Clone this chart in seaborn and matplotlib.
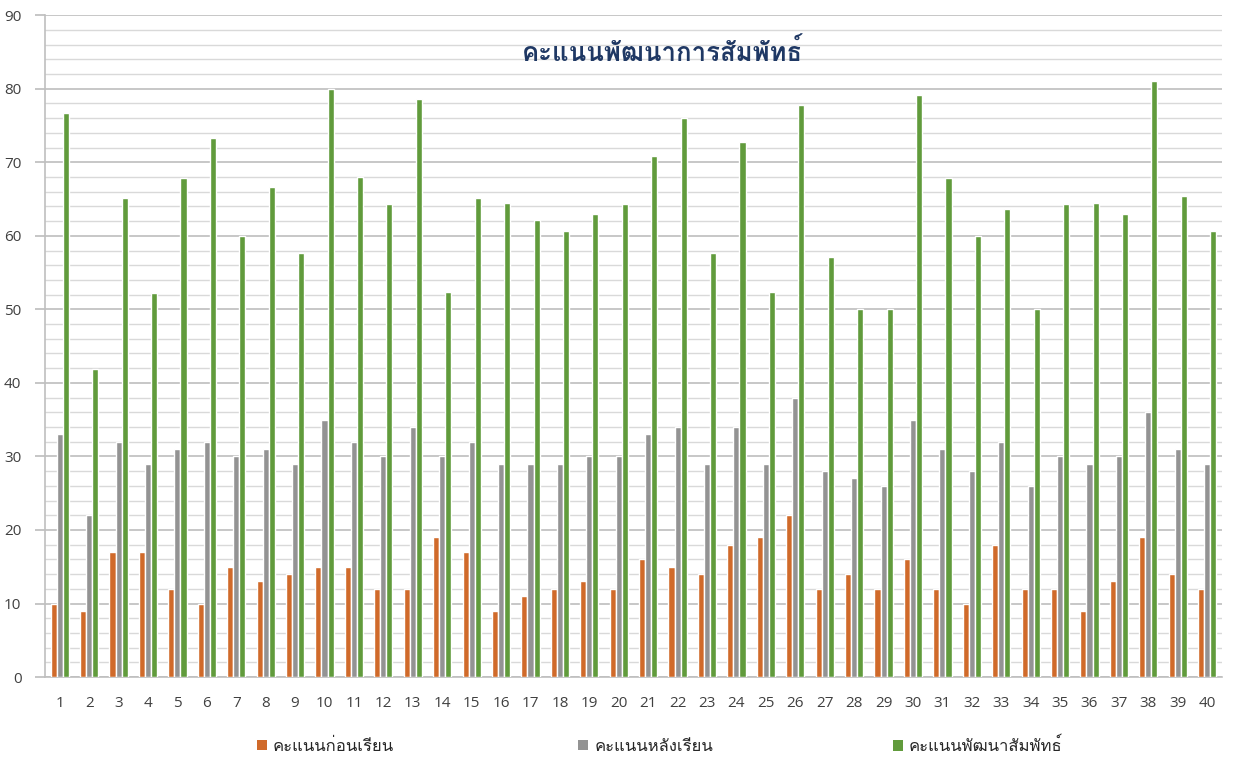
import numpy as np
import pandas as pd
import matplotlib
matplotlib.use("Agg")
import matplotlib.pyplot as plt
import seaborn as sns
from matplotlib import font_manager
from matplotlib.ft2font import FT2Font
from matplotlib.patches import Patch

# ---------------- data ----------------
students = [str(i) for i in range(1, 41)]
before = [10, 9, 17, 17, 12, 10, 15, 13, 14, 15, 15, 12, 12, 19, 17, 9, 11, 12, 13, 12,
          16, 15, 14, 18, 19, 22, 12, 14, 12, 16, 12, 10, 18, 12, 12, 9, 13, 19, 14, 12]
after = [33, 22, 32, 29, 31, 32, 30, 31, 29, 35, 32, 30, 34, 30, 32, 29, 29, 29, 30, 30,
         33, 34, 29, 34, 29, 38, 28, 27, 26, 35, 31, 28, 32, 26, 30, 29, 30, 36, 31, 29]
development = [76.7, 41.9, 65.2, 52.2, 67.9, 73.3, 60.0, 66.7, 57.7, 80.0,
               68.0, 64.3, 78.6, 52.4, 65.2, 64.5, 62.1, 60.7, 63.0, 64.3,
               70.8, 76.0, 57.7, 72.7, 52.4, 77.8, 57.1, 50.0, 50.0, 79.2,
               67.9, 60.0, 63.6, 50.0, 64.3, 64.5, 63.0, 81.0, 65.4, 60.7]
series_names = ["คะแนนก่อนเรียน", "คะแนนหลังเรียน", "คะแนนพัฒนาสัมพัทธ์"]
title_text = "คะแนนพัฒนาการสัมพัทธ์"
y_ticks = [0, 10, 20, 30, 40, 50, 60, 70, 80, 90]

colors = ["#D06A2A", "#939393", "#619B3C"]

# ---------------- fonts ----------------
cands = set()
for f in font_manager.fontManager.ttflist:
    try:
        if 0x0E01 in FT2Font(f.fname).get_charmap():
            cands.add(f.name)
    except Exception:
        pass
pref = None
for p in ["Loma", "Tahoma", "Noto Sans Thai Looped", "Noto Sans Thai", "Sarabun"]:
    if p in cands:
        pref = p
        break
if pref is None and cands:
    pref = sorted(cands)[0]
families = ([pref] if pref else []) + ["DejaVu Sans"]

sns.set_theme(style="white")
plt.rcParams["font.family"] = families

df = pd.DataFrame({
    "student": students * 3,
    "score": before + after + development,
    "series": [series_names[0]] * 40 + [series_names[1]] * 40 + [series_names[2]] * 40,
})

fig = plt.figure(figsize=(12.33, 7.62), dpi=100)
ax = fig.add_axes([0.0365, 0.1115, 0.9545, 0.8685])

sns.barplot(data=df, x="student", y="score", hue="series", hue_order=series_names,
            palette=colors, width=0.62, ax=ax, legend=False, saturation=1,
            errorbar=None, zorder=3)

ax.set_ylim(0, 90)
ax.set_xlim(-0.5, 39.5)
ax.set_yticks(y_ticks)
ax.set_yticks(np.arange(0, 91, 2), minor=True)
ax.grid(axis="y", which="major", color="#BDBDBD", linewidth=1.2, zorder=0)
ax.grid(axis="y", which="minor", color="#D9D9D9", linewidth=1.0, zorder=0)
ax.set_axisbelow(True)
ax.set_xlabel("")
ax.set_ylabel("")
for s in ["top", "right"]:
    ax.spines[s].set_visible(False)
for s in ["left", "bottom"]:
    ax.spines[s].set_color("#BFBFBF")
    ax.spines[s].set_linewidth(1.2)
ax.tick_params(axis="y", which="major", left=True, length=7, color="#BFBFBF",
               labelcolor="#404040", pad=10)
ax.tick_params(axis="y", which="minor", left=False)
ax.tick_params(axis="x", bottom=False, labelcolor="#404040", pad=8)
for lab in ax.get_xticklabels() + ax.get_yticklabels():
    lab.set_fontfamily(["Open Sans", "DejaVu Sans"])
    lab.set_fontsize(11)

ax.text(0.525, 0.944, title_text, transform=ax.transAxes, ha="center", va="center",
        fontsize=18.5, fontweight="bold", color="#1F3864")

legend_x = [0.196, 0.457, 0.712]
for name, col, lx in zip(series_names, colors, legend_x):
    fig.legend(handles=[Patch(facecolor=col, edgecolor="none")], labels=[name],
               loc="center left", bbox_to_anchor=(lx, 0.02), frameon=False,
               fontsize=12, labelcolor="#262626", handlelength=0.6, handleheight=0.6,
               handletextpad=0.35)

fig.savefig("out.png", dpi=100)
